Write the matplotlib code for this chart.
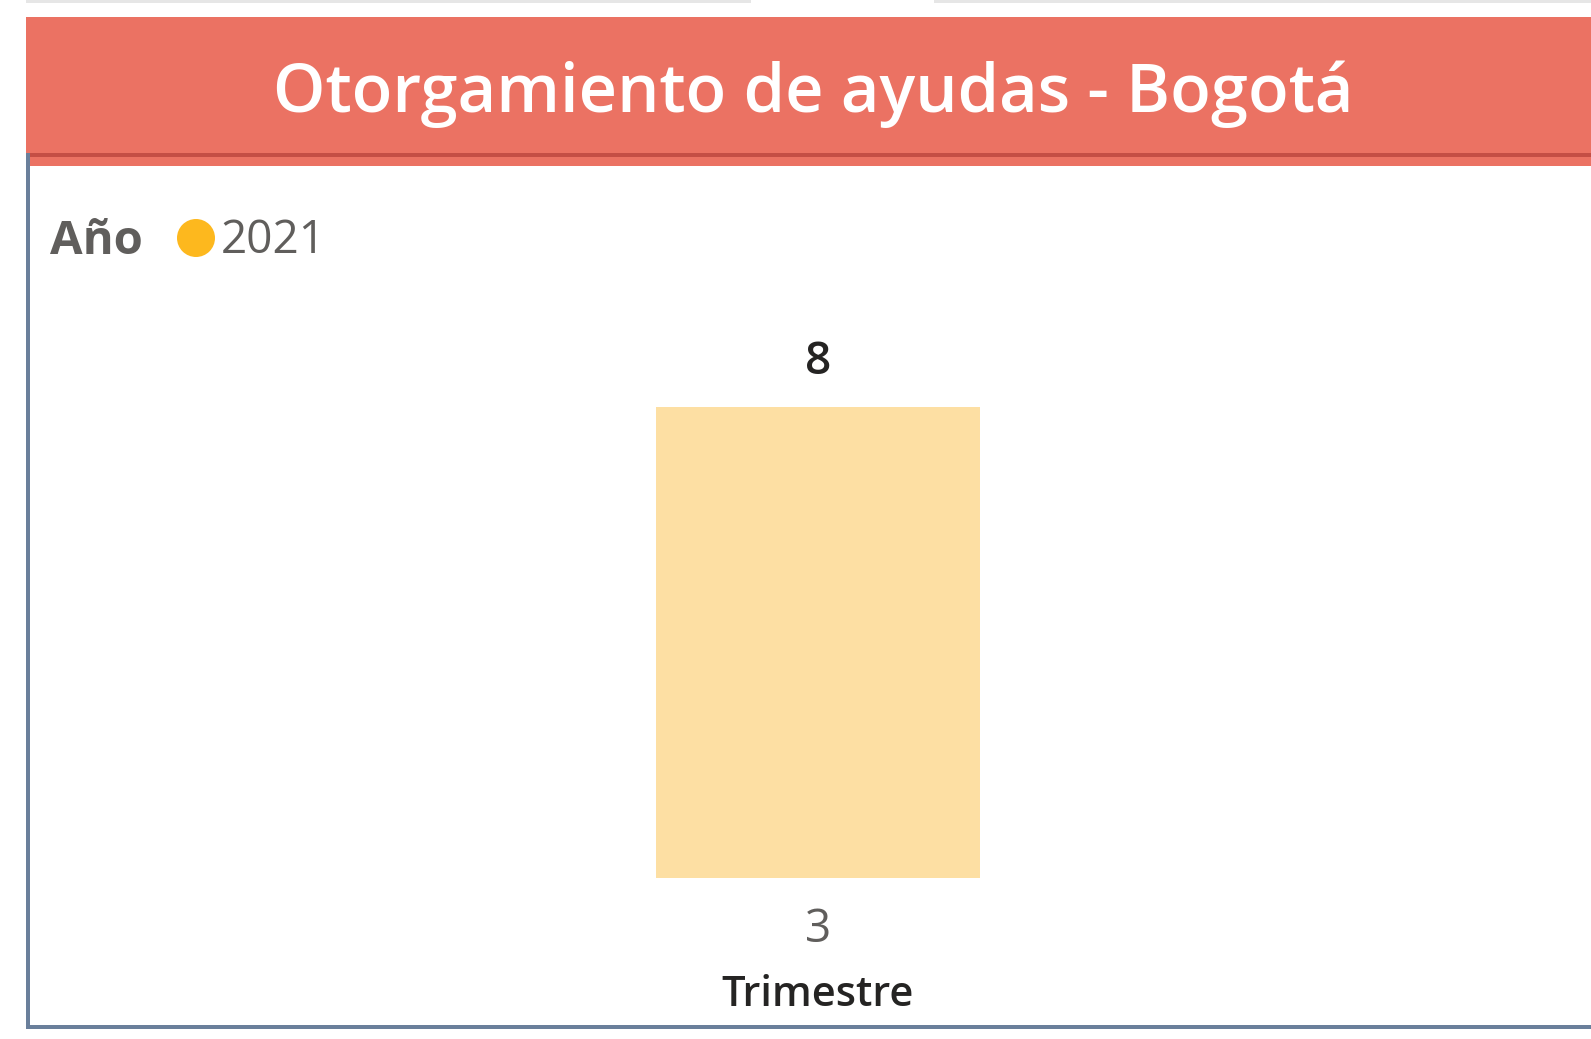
# plot.py
#   Otorgamiento de ayudas - Bogota (power bi style card)

# imports
import matplotlib
matplotlib.use('Agg')
import matplotlib.pyplot as plt
from matplotlib import rcParams
from matplotlib.patches import Rectangle, Circle

# globals
rcParams['font.family'] = ['Open Sans', 'DejaVu Sans']
W, H = 1591, 1039
red = '#EB7263'
red_dark = '#C44E45'
border = '#6A7F9B'
grey = '#605E5C'
ink = '#252423'

# data
title = 'Otorgamiento de ayudas - Bogotá'
legend_title = 'Año'
years = ['2021']
year_colors = ['#FDB81E']
trimestres = ['3']
ayudas = [8]
bar_color = '#FDDFA3'


def px(x, y):
    # figure pixel (from top-left) -> figure fraction
    return x / W, 1 - y / H


fig = plt.figure(figsize=(W / 100, H / 100), dpi=100, facecolor='white')

# frame decoration
deco = fig.add_axes([0, 0, 1, 1])
deco.set_xlim(0, W)
deco.set_ylim(H, 0)
deco.axis('off')
deco.add_patch(Rectangle((26, 0), 725, 3, color='#E6E6E6', lw=0))
deco.add_patch(Rectangle((934, 0), W - 934, 3, color='#E6E6E6', lw=0))
deco.add_patch(Rectangle((26, 17), W - 26, 149, color=red, lw=0))
deco.add_patch(Rectangle((26, 153), W - 26, 4, color=red_dark, lw=0))
deco.add_patch(Rectangle((26, 153), 4, 876, color=border, lw=0))
deco.add_patch(Rectangle((26, 1025), W - 26, 4, color=border, lw=0))

# title
fig.text(*px(813, 94), title, ha='center', va='center', fontsize=48,
         color='white', fontweight='semibold')

# legend
fig.text(*px(50, 242), legend_title, ha='left', va='center', fontsize=34,
         color=grey, fontweight='bold')
deco.add_patch(Circle((196, 238), 19, color=year_colors[0], lw=0))
fig.text(*px(221, 241), years[0], ha='left', va='center', fontsize=33,
         color=grey)

# bar chart
left, right = 45, W
bottom, top = 878, 407
ax = fig.add_axes([left / W, 1 - bottom / H, (right - left) / W, (bottom - top) / H])
ax.bar(range(len(trimestres)), ayudas, width=0.6, color=bar_color)
half = (right - left) / 540 / 2
ax.set_xlim(-half, half)
ax.set_ylim(0, max(ayudas))
ax.axis('off')
for i, v in enumerate(ayudas):
    ax.annotate(str(v), (i, v), xytext=(0, 45), textcoords='offset pixels',
                ha='center', va='center', fontsize=33, color=ink,
                fontweight='semibold', annotation_clip=False)
    ax.annotate(trimestres[i], (i, 0), xytext=(0, -52), textcoords='offset pixels',
                ha='center', va='center', fontsize=33, color=grey,
                annotation_clip=False)

fig.text(*px(818, 995), 'Trimestre', ha='center', va='center', fontsize=30,
         color=ink, fontweight='semibold')

plt.savefig('out.png', dpi=100, facecolor='white')
